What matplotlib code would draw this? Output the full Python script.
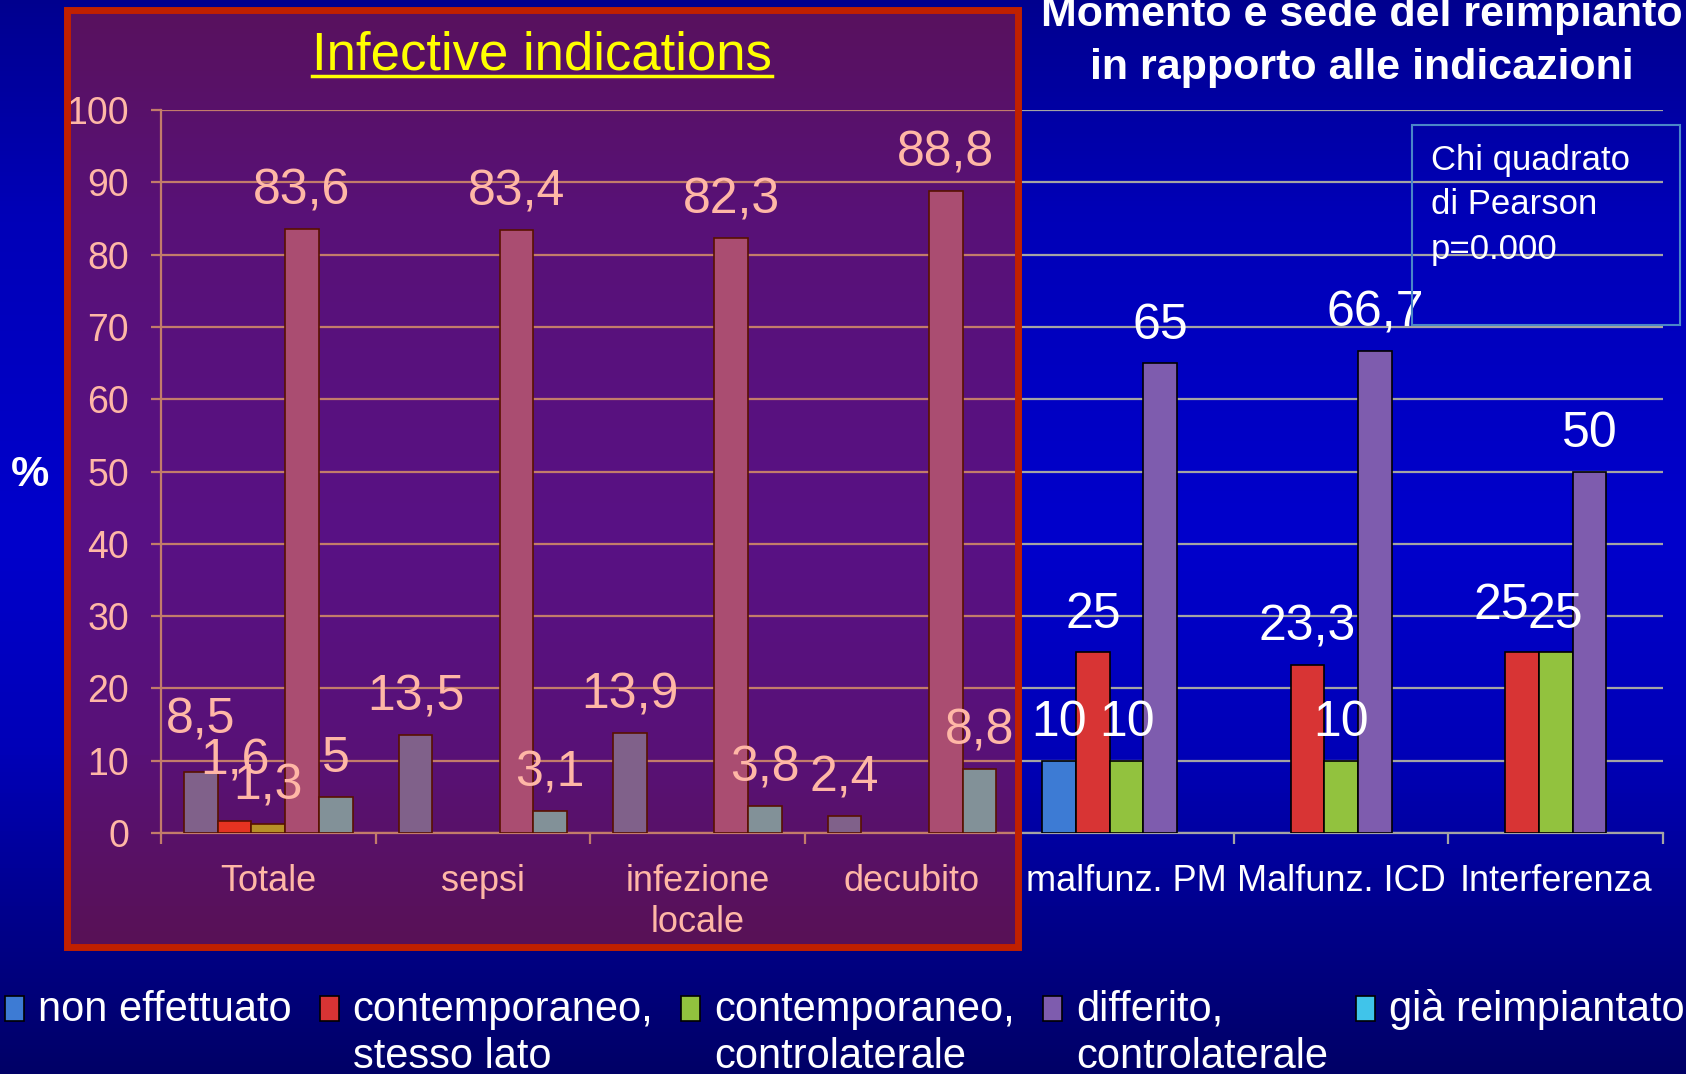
import matplotlib.pyplot as plt
import numpy as np
from matplotlib.patches import Rectangle
from matplotlib.lines import Line2D
from matplotlib.colors import LinearSegmentedColormap

plt.rcParams['font.family'] = ['Liberation Sans', 'DejaVu Sans']

# data
categories = ['Totale', 'sepsi', 'infezione\nlocale', 'decubito',
              'malfunz. PM', 'Malfunz. ICD', 'Interferenza']
series = ['non effettuato', 'contemporaneo,\nstesso lato',
          'contemporaneo,\ncontrolaterale', 'differito,\ncontrolaterale',
          'già reimpiantato']
non_effettuato = [8.5, 13.5, 13.9, 2.4, 10, 0, 0]
stesso_lato = [1.6, 0, 0, 0, 25, 23.3, 25]
controlaterale = [1.3, 0, 0, 0, 10, 10, 25]
differito = [83.6, 83.4, 82.3, 88.8, 65, 66.7, 50]
gia_reimpiantato = [5, 3.1, 3.8, 8.8, 0, 0, 0]
values = [non_effettuato, stesso_lato, controlaterale, differito, gia_reimpiantato]
colors = ['#3d7bd4', '#d83434', '#92c23e', '#7e5cae', '#40c4ea']

# label nudges (points) where the original labels were moved by hand
nudge = {(0, 0): (0, 10), (1, 0): (0, 16), (1, 6): (-15, 6)}

W, H = 1686, 1074
fig = plt.figure(figsize=(W / 100, H / 100), dpi=100)

# blue gradient background (0 = bottom, 1 = top)
bg = fig.add_axes([0, 0, 1, 1], zorder=-10)
bg.axis('off')
cmap = LinearSegmentedColormap.from_list('bg', [
    (0.0, (0, 0, 0.40)), (0.12, (0, 0, 0.52)), (0.3, (0, 0, 0.72)),
    (0.5, (0, 0, 0.80)), (0.8, (0, 0, 0.72)), (1.0, (0, 0, 0.56))])
grad = np.linspace(0, 1, 256).reshape(-1, 1)
bg.imshow(grad, aspect='auto', cmap=cmap, extent=[0, 1, 0, 1], origin='lower')

ax = fig.add_axes([161 / W, 1 - 833 / H, (1663 - 161) / W, (833 - 110) / H])
ax.set_facecolor('none')

grid_c = '#a4a4a4'
x = np.arange(len(categories))
bw = 0.157
for i, (vals, col) in enumerate(zip(values, colors)):
    for j, v in enumerate(vals):
        if v == 0:
            continue
        xp = x[j] + (i - 2) * bw
        ax.bar(xp, v, width=bw, color=col, edgecolor='black', linewidth=1.2, zorder=3)
        dx, dy = nudge.get((i, j), (0, 0))
        ax.annotate(f'{v:g}'.replace('.', ','), (xp, v), xytext=(dx, 27 + dy),
                    textcoords='offset points', ha='center', va='center',
                    fontsize=36, color='white', zorder=4)

ax.set_xlim(-0.5, len(categories) - 0.5)
ax.set_ylim(0, 100)
ax.set_yticks(np.arange(0, 101, 10))
ax.yaxis.grid(True, color=grid_c, linewidth=1.6)
ax.set_axisbelow(True)
ax.set_xticks(x)
ax.set_xticklabels(categories, linespacing=1.25)
ax.set_xticks(np.arange(-0.5, len(categories)), minor=True)
ax.tick_params(axis='x', which='major', length=0, pad=22, labelsize=26, labelcolor='white')
ax.tick_params(axis='x', which='minor', length=8, width=1.6, color=grid_c, direction='out')
ax.tick_params(axis='y', length=7, width=1.6, color=grid_c, pad=16, labelsize=27,
               labelcolor='white')
for s in ['top', 'right']:
    ax.spines[s].set_visible(False)
for s in ['left', 'bottom']:
    ax.spines[s].set_color(grid_c)
    ax.spines[s].set_linewidth(1.6)

fig.text(30 / W, 1 - 475 / H, '%', color='white', fontsize=31, fontweight='bold',
         ha='center', va='center')

# translucent panel over the infective indications
fig.add_artist(Rectangle((66.5 / W, 1 - 946.5 / H), (1018.5 - 66.5) / W, (946.5 - 9.5) / H,
                         transform=fig.transFigure, facecolor=(1, 0.2, 0, 0.35),
                         edgecolor='#c02000', linewidth=5, zorder=5))
t = fig.text(542 / W, 1 - 55 / H, 'Infective indications', color='#ffff00', fontsize=38,
             ha='center', va='center', zorder=6)

# titles
fig.text(1362 / W, 1 - 15 / H, 'Momento e sede del reimpianto', color='white',
         fontsize=31, fontweight='bold', ha='center', va='center', zorder=6)
fig.text(1362 / W, 1 - 68 / H, 'in rapporto alle indicazioni', color='white',
         fontsize=31, fontweight='bold', ha='center', va='center', zorder=6)

# chi square box
fig.add_artist(Rectangle((1412 / W, 1 - 325 / H), 268 / W, 200 / H, transform=fig.transFigure,
                         facecolor='none', edgecolor='#4a86c8', linewidth=1.5, zorder=6))
for k, line in enumerate(['Chi quadrato', 'di Pearson', 'p=0.000']):
    fig.text(1431 / W, 1 - (160 + 45 * k) / H, line, color='white', fontsize=25,
             ha='left', va='center', zorder=6)

fig.canvas.draw()
r = fig.canvas.get_renderer()
bb = t.get_window_extent(r)
fig.add_artist(Line2D([bb.x0 / W, bb.x1 / W], [1 - 76 / H, 1 - 76 / H],
                      transform=fig.transFigure, color='#ffff00', linewidth=2.5, zorder=6))

# legend
lx = 5
for name, col in zip(series, colors):
    fig.add_artist(Rectangle((lx / W, 1 - 1021 / H), 19 / W, 25 / H, transform=fig.transFigure,
                             facecolor=col, edgecolor='black', linewidth=1.2, zorder=6))
    right = lx
    for k, line in enumerate(name.split('\n')):
        tt = fig.text((lx + 33) / W, 1 - (1010 + 47 * k) / H, line, color='white',
                      fontsize=30, ha='left', va='center', zorder=6)
        right = max(right, tt.get_window_extent(r).x1)
    lx = right + 28

fig.savefig('out.png', dpi=100)
